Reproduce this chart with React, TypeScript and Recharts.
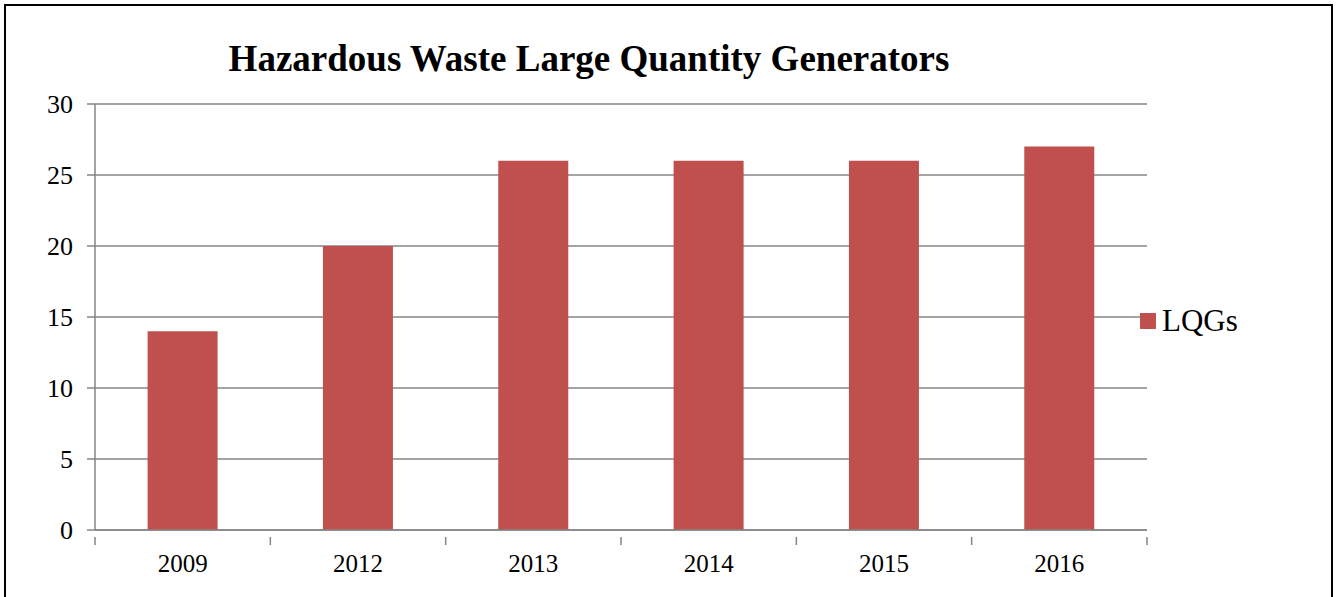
import React from "react";
import { BarChart, Bar, XAxis, YAxis, CartesianGrid } from "recharts";

const years = ["2009", "2012", "2013", "2014", "2015", "2016"];
const lqgs = [14, 20, 26, 26, 26, 27];
const yTicks = [0, 5, 10, 15, 20, 25, 30];

const data = years.map((y, i) => ({ year: y, LQGs: lqgs[i] }));

const W = 1337;
const H = 597;
const M = { top: 104, right: 190, left: 0, bottom: 0 };
const Y_W = 95;
const BAND = (W - M.right - Y_W) / years.length;
const AXIS = "#868686";
const BAR = "#C0504D";
const FONT = "'Liberation Serif', 'Times New Roman', serif";

function XTick(props: any) {
  const { x, y, index, payload } = props;
  const left = x - BAND / 2;
  return (
    <g>
      <line x1={left} x2={left} y1={y - 1} y2={y + 7} stroke={AXIS} strokeWidth={1.5} />
      {index === years.length - 1 && (
        <line x1={left + BAND} x2={left + BAND} y1={y - 1} y2={y + 7} stroke={AXIS} strokeWidth={1.5} />
      )}
      <text x={x} y={y + 34} textAnchor="middle" fontSize={25} fill="#000" fontFamily={FONT}>
        {payload.value}
      </text>
    </g>
  );
}

export default function App() {
  return (
    <div style={{ position: "absolute", left: 0, top: 0, width: W, height: H, background: "#fff", overflow: "hidden" }}>
      <div
        style={{
          position: "absolute",
          left: 4,
          top: 4,
          width: 1329,
          height: 620,
          border: "2px solid #000",
          boxSizing: "border-box",
        }}
      />
      <div
        style={{
          position: "absolute",
          left: 0,
          width: 1178,
          top: 37,
          textAlign: "center",
          fontFamily: FONT,
          fontWeight: "bold",
          fontSize: 37,
          lineHeight: "44px",
          color: "#000",
        }}
      >
        Hazardous Waste Large Quantity Generators
      </div>
      <BarChart width={W} height={H} data={data} margin={M} barCategoryGap="30%">
        <CartesianGrid vertical={false} stroke={AXIS} strokeWidth={1.5} />
        <XAxis
          dataKey="year"
          height={67}
          axisLine={{ stroke: AXIS, strokeWidth: 1.5 }}
          tickLine={false}
          tick={<XTick />}
          interval={0}
        />
        <YAxis
          width={Y_W}
          domain={[0, 30]}
          ticks={yTicks}
          interval={0}
          axisLine={{ stroke: AXIS, strokeWidth: 1.5 }}
          tickLine={{ stroke: AXIS, strokeWidth: 1.5 }}
          tickSize={8}
          tickMargin={14}
          tick={{ fontSize: 26, fill: "#000", fontFamily: FONT }}
        />
        <Bar dataKey="LQGs" fill={BAR} isAnimationActive={false} />
      </BarChart>
      <div
        style={{
          position: "absolute",
          left: 1140,
          top: 303,
          display: "flex",
          alignItems: "center",
          fontFamily: FONT,
          fontSize: 31,
          lineHeight: "36px",
          color: "#000",
        }}
      >
        <span style={{ width: 16, height: 16, background: BAR, display: "inline-block", marginRight: 6 }} />
        <span>LQGs</span>
      </div>
    </div>
  );
}
